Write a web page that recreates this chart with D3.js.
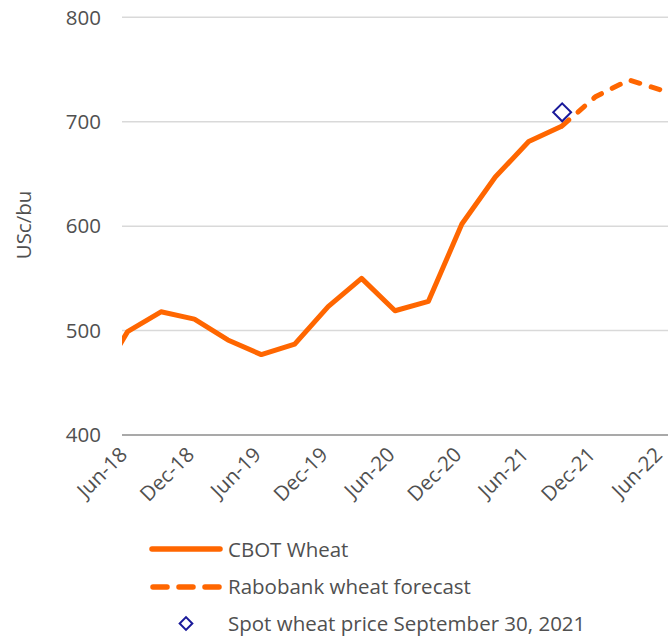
<!DOCTYPE html>
<html lang="en">
<head>
<meta charset="UTF-8">
<title>CBOT wheat</title>
<script src="https://d3js.org/d3.v7.min.js"></script>
<style>
    body { margin: 0; background: #fff; font-family: "Open Sans", "Noto Sans", sans-serif; }
    .tick-label { fill: #505050; font-size: 20.5px; }
    .legend-text { fill: #505050; font-size: 20.5px; }
</style>
</head>
<body>
<svg id="chart" width="668" height="636"></svg>
<script>
    // months counted from Jun-18 (0) to Jun-22 (48), quarterly points
    const cbotMonths = [-3, 0, 3, 6, 9, 12, 15, 18, 21, 24, 27, 30, 33, 36, 39];
    const cbotValues = [445, 499, 518, 511, 491, 477, 487, 523, 550, 519, 528, 602, 647, 681, 696];

    const forecastMonths = [39, 42, 45, 48];
    const forecastValues = [696, 724, 740, 730];

    const spotMonth = 39;
    const spotValue = 709;

    const tickMonths = [0, 6, 12, 18, 24, 30, 36, 42, 48];
    const tickLabels = ["Jun-18", "Dec-18", "Jun-19", "Dec-19", "Jun-20", "Dec-20", "Jun-21", "Dec-21", "Jun-22"];
    const yTicks = [400, 500, 600, 700, 800];

    const orange = "#ff6600";
    const navy = "#1a1a9a";

    const svg = d3.select("#chart");
    const plotLeft = 122, plotRight = 668, plotTop = 17.3, plotBottom = 435;

    // 49 monthly slots, points sit in the middle of their slot
    const x = d3.scaleLinear().domain([-0.5, 48.5]).range([plotLeft, plotRight]);
    const y = d3.scaleLinear().domain([400, 800]).range([plotBottom, plotTop]);

    svg.append("defs").append("clipPath").attr("id", "plot")
        .append("rect").attr("x", plotLeft).attr("y", 0)
        .attr("width", plotRight - plotLeft).attr("height", plotBottom);

    // grid
    svg.append("g").selectAll("line")
        .data(yTicks)
        .join("line")
        .attr("x1", plotLeft).attr("x2", plotRight)
        .attr("y1", d => y(d)).attr("y2", d => y(d))
        .attr("stroke", d => d === 400 ? "#8c8c8c" : "#d9d9d9")
        .attr("stroke-width", 1.5);

    svg.append("g").selectAll("text")
        .data(yTicks)
        .join("text")
        .attr("class", "tick-label")
        .attr("x", 101)
        .attr("y", d => y(d) + 7.3)
        .attr("text-anchor", "end")
        .text(d => d);

    svg.append("g").selectAll("text")
        .data(tickMonths)
        .join("text")
        .attr("class", "tick-label")
        .attr("text-anchor", "end")
        .attr("transform", d => `translate(${x(d) + 1},${456}) rotate(-45)`)
        .text((d, i) => tickLabels[i]);

    svg.append("text")
        .attr("class", "tick-label")
        .attr("transform", `translate(30.5,225) rotate(-90)`)
        .attr("text-anchor", "middle")
        .text("USc/bu");

    const line = d3.line()
        .x(d => x(d[0]))
        .y(d => y(d[1]));

    const plot = svg.append("g").attr("clip-path", "url(#plot)");

    plot.append("path")
        .datum(d3.zip(forecastMonths, forecastValues))
        .attr("d", line)
        .attr("fill", "none")
        .attr("stroke", orange)
        .attr("stroke-width", 5)
        .attr("stroke-linecap", "round")
        .attr("stroke-dasharray", "9 12");

    plot.append("path")
        .datum(d3.zip(cbotMonths, cbotValues))
        .attr("d", line)
        .attr("fill", "none")
        .attr("stroke", orange)
        .attr("stroke-width", 5)
        .attr("stroke-linejoin", "round");

    const diamond = d3.symbol().type(d3.symbolSquare).size(160);
    svg.append("path")
        .attr("d", diamond())
        .attr("transform", `translate(${x(spotMonth)},${y(spotValue)}) rotate(45)`)
        .attr("fill", "#fff")
        .attr("stroke", navy)
        .attr("stroke-width", 2);

    // legend
    const legend = svg.append("g");
    legend.append("line")
        .attr("x1", 152).attr("x2", 220).attr("y1", 549).attr("y2", 549)
        .attr("stroke", orange).attr("stroke-width", 5.5).attr("stroke-linecap", "round");
    legend.append("line")
        .attr("x1", 153).attr("x2", 220).attr("y1", 587).attr("y2", 587)
        .attr("stroke", orange).attr("stroke-width", 5.5).attr("stroke-linecap", "round")
        .attr("stroke-dasharray", "14 12");
    legend.append("path")
        .attr("d", d3.symbol().type(d3.symbolSquare).size(80)())
        .attr("transform", "translate(186,623.5) rotate(45)")
        .attr("fill", "#fff").attr("stroke", navy).attr("stroke-width", 2);

    const legendItems = ["CBOT Wheat", "Rabobank wheat forecast", "Spot wheat price September 30, 2021"];
    legend.selectAll("text.legend-text")
        .data(legendItems)
        .join("text")
        .attr("class", "legend-text")
        .attr("x", 228)
        .attr("y", (d, i) => 556.5 + i * 37)
        .text(d => d);
</script>
</body>
</html>
